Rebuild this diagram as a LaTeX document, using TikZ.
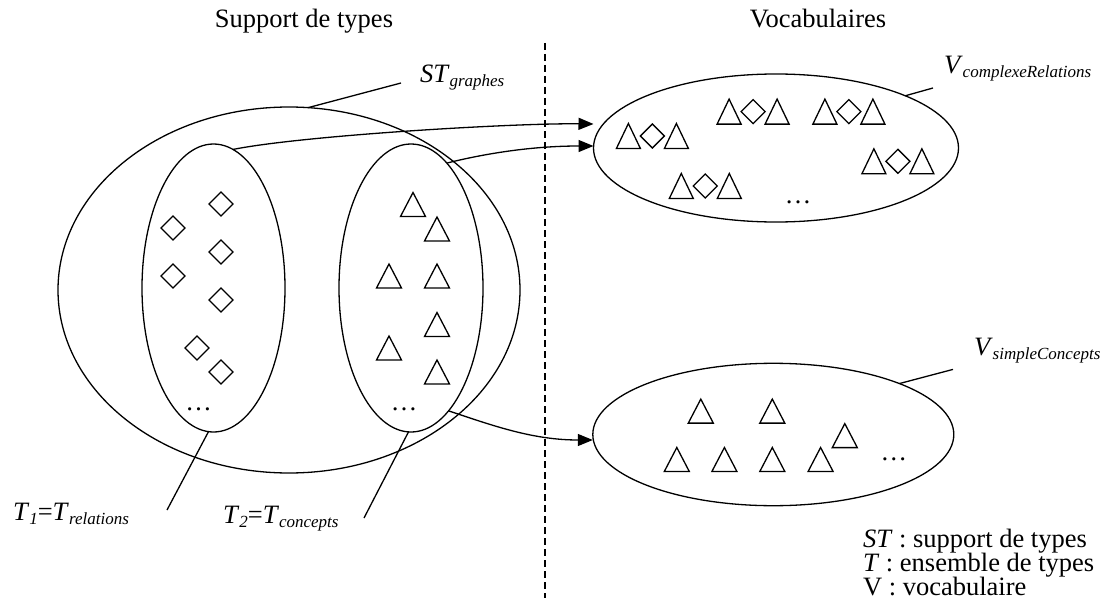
\documentclass[tikz,border=0pt]{standalone}
\usepackage{fontspec}
\setmainfont{Liberation Serif}
\usetikzlibrary{arrows.meta,shapes.geometric}
\newcommand\lsub[1]{\raisebox{-4pt}{\fontsize{17}{17}\selectfont\itshape #1}}
\begin{document}
\begin{tikzpicture}[x=1pt,y=-1pt, line width=1.3pt,
  ell/.style={draw, ellipse, inner sep=0pt, outer sep=0pt},
  lbl/.style={inner sep=0pt, outer sep=0pt, font=\fontsize{26.5}{30}\selectfont},
  arr/.style={-{Triangle[length=15pt,width=12pt]}},
  tri/.pic={\draw (-12.5,12) -- (12.5,12) -- (0,-12) -- cycle;},
  stri/.pic={\draw (-12,12.5) -- (12,12.5) -- (0,-12.5) -- cycle;},
  dia/.pic={\draw (0,-12) -- (12,0) -- (0,12) -- (-12,0) -- cycle;},
  sdia/.pic={\draw (0,-12) -- (12,0) -- (0,12) -- (-12,0) -- cycle;},
  grp/.pic={\pic at (-24,0) {stri}; \pic at (0,0) {sdia}; \pic at (24,0) {stri};}
]
\useasboundingbox (0,0) rectangle (1109,610);

% headings
\node[lbl, anchor=base] (hsupp) at (304,28) {Support de types};
\node[lbl, anchor=base] (hvoc) at (818,28) {Vocabulaires};

% separator
\coordinate (dtop) at (545,43);
\coordinate (dbot) at (545,598);
\draw[dash pattern=on 7pt off 4pt] (dtop) -- (dbot);

% ellipses
\node[ell, minimum width=462pt, minimum height=366pt] (st) at (289,290) {};
\node[ell, minimum width=143pt, minimum height=288pt] (tl) at (213.5,288) {};
\node[ell, minimum width=144pt, minimum height=288pt] (tr) at (411,288) {};
\node[ell, minimum width=365pt, minimum height=148pt] (vc) at (776,148) {};
\node[ell, minimum width=361pt, minimum height=142.4pt] (vs) at (773.3,434.5) {};

% diamonds in T1
\foreach \p in {(221,204),(173,228),(221,252),(173,276),(221,300),(197,348),(221,372)}
  \pic at \p {dia};
% triangles in T2
\foreach \p in {(413,204.5),(437,229),(389,276),(437,276),(437,324.5),(389,348),(437,372)}
  \pic at \p {tri};
% groups in V complexeRelations
\foreach \p in {(652.4,136),(753.1,111.6),(848.9,111.6),(897.9,161.3),(705.3,186)}
  \pic at \p {grp};
% triangles in V simpleConcepts
\foreach \p in {(700.8,411.1),(772.3,411.1),(844.8,435.6),(676.8,459.5),(724.4,459.5),(772.3,459.5),(820.6,459.5)}
  \pic at \p {tri};

% ellipsis dots
\node[lbl, anchor=base] (d1) at (198.5,410) {…};
\node[lbl, anchor=base] (d2) at (404,410) {…};
\node[lbl, anchor=base] (d3) at (798,203) {…};
\node[lbl, anchor=base] (d4) at (893.8,460) {…};

% labels
\node[lbl, anchor=base west] (stl) at (420,83) {\textit{ST}\lsub{graphes}};
\node[lbl, anchor=base west] (vcl) at (944,74) {\textit{V}\lsub{complexeRelations}};
\node[lbl, anchor=base west] (vsl) at (974,355) {\textit{V}\lsub{simpleConcepts}};
\node[lbl, anchor=base west] (t1l) at (13,520) {\textit{T}\lsub{1}=\textit{T}\lsub{relations}};
\node[lbl, anchor=base west] (t2l) at (223,523) {\textit{T}\lsub{2}=\textit{T}\lsub{concepts}};

\coordinate (stc) at (401,83);
\coordinate (vcc) at (933,88);
\coordinate (vsc) at (953,369.4);
\coordinate (t1c) at (167,510);
\coordinate (t2c) at (364,518);
\draw (st.84.4) -- (stc);
\draw (vc.22.4) -- (vcc);
\draw (vs.22.6) -- (vsc);
\draw (tl.268) -- (t1c);
\draw (tr.269.6) -- (t2c);

% arrows
\draw[arr] (tl.82) .. controls +(70,-14) and +(-80,-1) .. ([yshift=24pt]vc.west);
\draw[arr] (tr.74) .. controls +(40,-10) and +(-60,0) .. ([yshift=2pt]vc.west);
\draw[arr] (tr.287.6) .. controls +(45,15) and +(-60,0) .. ([yshift=-5.5pt]vs.west);

% legend
\node[lbl, anchor=base west] (lg1) at (863,547) {\textit{ST} : support de types};
\node[lbl, anchor=base west] (lg2) at (863,571) {\textit{T} : ensemble de types};
\node[lbl, anchor=base west] (lg3) at (863,595) {V : vocabulaire};
\end{tikzpicture}
\end{document}
